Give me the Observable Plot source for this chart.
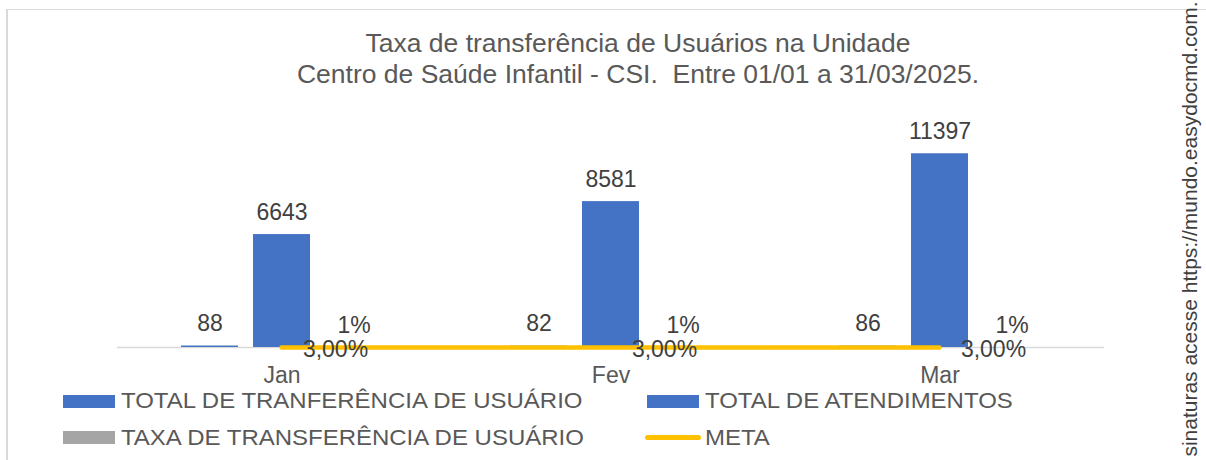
<!DOCTYPE html>
<html>
<head>
<meta charset="utf-8">
<script src="https://cdn.jsdelivr.net/npm/d3@7"></script>
<script src="https://cdn.jsdelivr.net/npm/@observablehq/plot@0.6"></script>
<style>
  body { margin: 0; background: #fff; font-family: "Liberation Sans", Arial, sans-serif; }
  #wrap { position: relative; width: 1206px; height: 460px; overflow: hidden; background: #fff; }
  #frame { position: absolute; left: 6px; top: 9px; width: 1300px; height: 500px;
           border-top: 1.5px solid #d9d9d9; border-left: 2px solid #d9d9d9; }
  .layer { position: absolute; left: 0; top: 0; }
  #title { position: absolute; left: 638px; top: 28px; transform: translateX(-50%) scaleX(1.06);
           text-align: center; white-space: nowrap; font-size: 25px; line-height: 31px; color: #595959; }
  .leg { position: absolute; white-space: nowrap; font-size: 22px; line-height: 24px; color: #595959;
         transform-origin: left center; transform: scaleX(1.09); }
  .sw { position: absolute; }
  #side { position: absolute; left: 1190px; top: 229px; white-space: nowrap; font-size: 21px; color: #404040;
          transform: translate(-50%, -50%) rotate(-90deg); }
</style>
</head>
<body>
<div id="wrap">
  <div id="frame"></div>
  <div id="chartA" class="layer"></div>
  <div id="chartB" class="layer"></div>
  <div id="title"></div>
  <div id="legend"></div>
  <div id="side"></div>
</div>
<script>
// ---- data ----
const months = ["Jan", "Fev", "Mar"];
const totalTransferencia = [88, 82, 86];
const totalAtendimentos = [6643, 8581, 11397];
const taxaTransferencia = [0.0132, 0.0096, 0.0075];
const meta = [0.03, 0.03, 0.03];
const seriesNames = [
  "TOTAL DE TRANFERÊNCIA DE USUÁRIO",
  "TOTAL DE ATENDIMENTOS",
  "TAXA DE TRANSFERÊNCIA DE USUÁRIO"
];
const metaName = "META";
const seriesColors = ["#4472C4", "#4472C4", "#A5A5A5"];
const metaColor = "#FFC000";
const titleLines = [
  "Taxa de transferência de Usuários na Unidade",
  "Centro de Saúde Infantil - CSI.\u00a0 Entre 01/01 a 31/03/2025."
];
const sideText = "sinaturas acesse https://mundo.easydocmd.com.";
const yDomain = [0, 12000];

// ---- formats ----
const ptBR = d3.formatLocale({decimal: ",", thousands: ".", grouping: [3], currency: ["R$", ""]});
const fmtCount = d3.format("d");
const fmtPct0 = d3.format(".0%");
const fmtPct2 = ptBR.format(".2%");

const rows = months.flatMap((m, i) => [
  {month: m, series: seriesNames[0], value: totalTransferencia[i], label: fmtCount(totalTransferencia[i])},
  {month: m, series: seriesNames[1], value: totalAtendimentos[i], label: fmtCount(totalAtendimentos[i])},
  {month: m, series: seriesNames[2], value: taxaTransferencia[i], label: fmtPct0(taxaTransferencia[i])}
]);
const metaRows = months.map((m, i) => ({month: m, value: meta[i], label: fmtPct2(meta[i])}));

const common = {
  width: 1206, height: 460,
  marginLeft: 116, marginRight: 102, marginTop: 143, marginBottom: 113,
  style: {fontFamily: "'Liberation Sans', Arial, sans-serif", background: "transparent", overflow: "visible"}
};

const chartA = Plot.plot({
  ...common,
  fx: {domain: months, padding: 0, axis: null},
  x: {domain: seriesNames, paddingInner: 0.205, paddingOuter: 0.858, axis: null},
  y: {domain: yDomain, axis: null},
  color: {domain: seriesNames, range: seriesColors},
  marks: [
    Plot.ruleY([0], {stroke: "#d9d9d9", strokeWidth: 1.5}),
    Plot.barY(rows, {fx: "month", x: "series", y: "value", fill: "series"}),
    Plot.text(rows, {fx: "month", x: "series", y: "value", text: "label", dy: -22, fontSize: 23, fill: "#404040"}),
    Plot.text(months, {fx: d => d, text: d => d, frameAnchor: "bottom", dy: 35, fontSize: 23, fill: "#595959"})
  ]
});
document.getElementById("chartA").appendChild(chartA);

const chartB = Plot.plot({
  ...common,
  x: {type: "point", domain: months, padding: 0.5, axis: null},
  y: {domain: yDomain, axis: null},
  marks: [
    Plot.lineY(metaRows, {x: "month", y: "value", stroke: metaColor, strokeWidth: 4.5, strokeLinecap: "round"}),
    Plot.text(metaRows, {x: "month", y: "value", text: "label", dx: 54, dy: 2, fontSize: 23, fill: "#404040"})
  ]
});
document.getElementById("chartB").appendChild(chartB);

// ---- title ----
document.getElementById("title").innerHTML = titleLines.map(t => `<div>${t}</div>`).join("");

// ---- legend ----
const legendItems = [
  {name: seriesNames[0], color: seriesColors[0], kind: "box", x: 63, y: 401},
  {name: seriesNames[1], color: seriesColors[1], kind: "box", x: 647, y: 401},
  {name: seriesNames[2], color: seriesColors[2], kind: "box", x: 63, y: 437.5},
  {name: metaName, color: metaColor, kind: "line", x: 647, y: 437.5}
];
const leg = document.getElementById("legend");
legendItems.forEach(it => {
  const sw = document.createElement("div");
  sw.className = "sw";
  if (it.kind === "box") {
    Object.assign(sw.style, {left: it.x + "px", top: (it.y - 6.5) + "px", width: "52px", height: "13px", background: it.color});
  } else {
    Object.assign(sw.style, {left: (it.x - 2) + "px", top: (it.y - 2.25) + "px", width: "56px", height: "4.5px", background: it.color, borderRadius: "3px"});
  }
  leg.appendChild(sw);
  const tx = document.createElement("div");
  tx.className = "leg";
  tx.textContent = it.name;
  Object.assign(tx.style, {left: (it.x + 58) + "px", top: (it.y - 12) + "px"});
  leg.appendChild(tx);
});

document.getElementById("side").textContent = sideText;
</script>
</body>
</html>
